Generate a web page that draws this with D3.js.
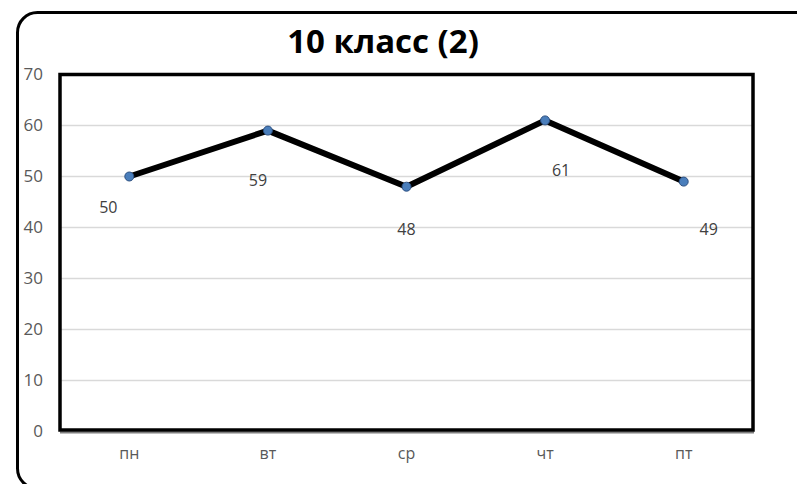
<!DOCTYPE html>
<html><head><meta charset="utf-8">
<script src="https://cdn.jsdelivr.net/npm/d3@7"></script>
<style>html,body{margin:0;padding:0;background:#fff;overflow:hidden}</style>
</head><body>
<svg id="c" width="797" height="484"></svg>
<script>
const title = "10 класс (2)";
const categories = ["пн", "вт", "ср", "чт", "пт"];
const values = [50, 59, 48, 61, 49];
const yTicks = [0, 10, 20, 30, 40, 50, 60, 70];

const W = 797, H = 484;
const plot = {left: 60, top: 74.5, right: 753, bottom: 431.5};
const svg = d3.select("#c");
const font = "'Open Sans', 'Noto Sans', sans-serif";

// outer rounded frame
svg.append("rect").attr("x", 17.5).attr("y", 12.5).attr("width", 820).attr("height", 476)
  .attr("rx", 20).attr("ry", 20).attr("fill", "#fff").attr("stroke", "#000").attr("stroke-width", 3);

const x = d3.scaleBand().domain(categories).range([plot.left, plot.right]);
const y = d3.scaleLinear().domain([0, 70]).range([plot.bottom, plot.top]);

// gridlines
svg.append("g").selectAll("line").data(yTicks.filter(t => t > 0 && t < 70)).join("line")
  .attr("x1", plot.left).attr("x2", plot.right)
  .attr("y1", d => y(d)).attr("y2", d => y(d))
  .attr("stroke", "#d9d9d9").attr("stroke-width", 1.5);

// y axis labels
const yAxis = d3.axisLeft(y).tickValues(yTicks).tickSize(0).tickPadding(0);
const ga = svg.append("g").attr("transform", `translate(${43},0)`).call(yAxis)
  .attr("font-family", font).attr("font-size", 17);
ga.select(".domain").remove();
ga.selectAll("text").style("font-family", font).style("font-size", "17px").attr("fill", "#595959");

// x axis labels
const xAxis = d3.axisBottom(x).tickSize(0).tickPadding(0);
const gx = svg.append("g").attr("transform", `translate(0,${448})`).call(xAxis)
  .attr("font-family", font).attr("font-size", 16);
gx.select(".domain").remove();
gx.selectAll("text").style("font-family", font).style("font-size", "16px").attr("fill", "#595959");

// axis line (gray) and plot area frame
svg.append("line").attr("x1", plot.left).attr("x2", plot.right + 1)
  .attr("y1", plot.bottom + 1).attr("y2", plot.bottom + 1)
  .attr("stroke", "#7f7f7f").attr("stroke-width", 2);
svg.append("rect").attr("x", plot.left).attr("y", plot.top)
  .attr("width", plot.right - plot.left).attr("height", plot.bottom - plot.top - 1.5)
  .attr("fill", "none").attr("stroke", "#000").attr("stroke-width", 3.5);

// line
const cx = d => x(d) + x.bandwidth() / 2;
const pts = categories.map((c, i) => [cx(c), y(values[i])]);
svg.append("path").attr("d", d3.line()(pts)).attr("fill", "none")
  .attr("stroke", "#000").attr("stroke-width", 6).attr("stroke-linejoin", "round");

svg.append("g").selectAll("circle").data(pts).join("circle")
  .attr("cx", d => d[0]).attr("cy", d => d[1]).attr("r", 4.5)
  .attr("fill", "#4a7ebb").attr("stroke", "#2c4f80").attr("stroke-width", 1);

// data labels (placement offsets as in the original chart)
const labelDx = [-21, -10, 0, 16, 25];
const labelDy = [30, 49, 42, 50, 47];
svg.append("g").selectAll("text").data(values).join("text")
  .attr("x", (d, i) => pts[i][0] + labelDx[i])
  .attr("y", (d, i) => pts[i][1] + labelDy[i])
  .attr("text-anchor", "middle").attr("dominant-baseline", "central")
  .style("font-family", font).style("font-size", "16px").attr("fill", "#404040")
  .text(d => d);

// title
svg.append("text").attr("x", 383).attr("y", 53).attr("text-anchor", "middle")
  .style("font-family", font).style("font-weight", "bold").style("font-size", "33px")
  .attr("fill", "#000").text(title);
</script>
</body></html>
